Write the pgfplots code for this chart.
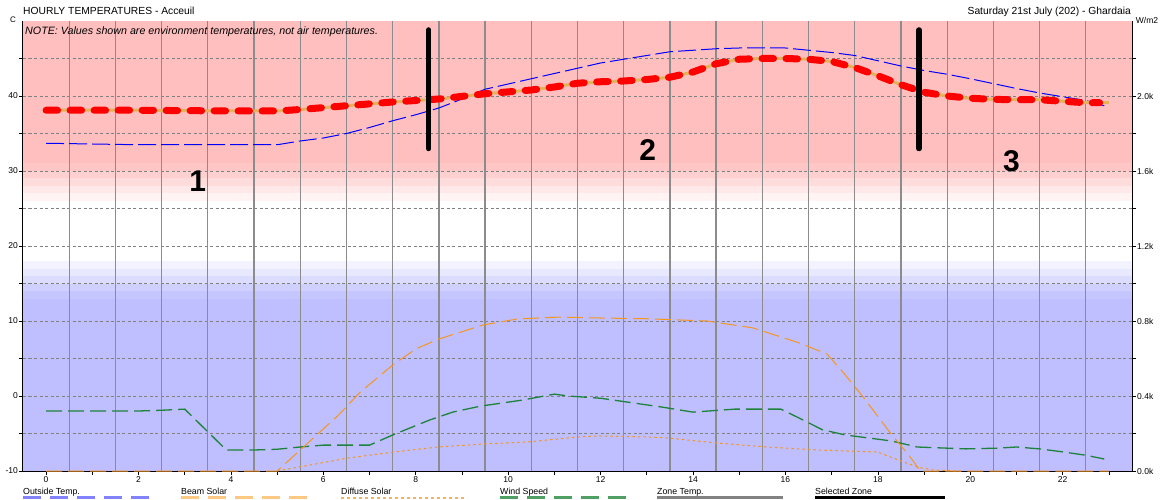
\documentclass[border=0pt]{standalone}
\usepackage{pgfplots}
\pgfplotsset{compat=1.18}
\usepackage{fontspec}
\setmainfont{Liberation Sans}
\definecolor{bgpink}{RGB}{255,191,191}
\definecolor{bglav}{RGB}{191,191,255}
\definecolor{pA}{RGB}{255,198,198}
\definecolor{pB}{RGB}{255,208,208}
\definecolor{pC}{RGB}{255,220,220}
\definecolor{pD}{RGB}{255,232,232}
\definecolor{pE}{RGB}{255,243,243}
\definecolor{lA}{RGB}{198,198,255}
\definecolor{lB}{RGB}{208,208,255}
\definecolor{lC}{RGB}{220,220,255}
\definecolor{lD}{RGB}{232,232,255}
\definecolor{lE}{RGB}{243,243,255}
\definecolor{gridgray}{RGB}{128,128,128}
\definecolor{vgray}{RGB}{140,140,140}
\definecolor{outblue}{RGB}{0,0,255}
\definecolor{solorange}{RGB}{245,150,30}
\definecolor{windgreen}{RGB}{30,130,60}
\definecolor{zonegold}{RGB}{225,180,90}
\definecolor{legblue}{RGB}{130,130,255}
\definecolor{legorange}{RGB}{255,200,130}
\definecolor{legdot}{RGB}{245,180,90}
\definecolor{leggreen}{RGB}{80,160,100}
\definecolor{leggray}{RGB}{130,130,130}
\begin{document}
\begin{tikzpicture}[x=1pt,y=1pt]
\useasboundingbox (0,0) rectangle (1162,499);
% background bands
\begin{axis}[at={(23pt,28pt)}, anchor=south west, width=1109pt, height=450pt, scale only axis,
  xmin=-0.5, xmax=23.5, ymin=-10, ymax=50, hide axis]
\fill[bglav] (axis cs:-0.5,-10) rectangle (axis cs:23.5,13);
\fill[lA] (axis cs:-0.5,13) rectangle (axis cs:23.5,14);
\fill[lB] (axis cs:-0.5,14) rectangle (axis cs:23.5,15);
\fill[lC] (axis cs:-0.5,15) rectangle (axis cs:23.5,16);
\fill[lD] (axis cs:-0.5,16) rectangle (axis cs:23.5,17);
\fill[lE] (axis cs:-0.5,17) rectangle (axis cs:23.5,18);
\fill[pE] (axis cs:-0.5,26) rectangle (axis cs:23.5,27);
\fill[pD] (axis cs:-0.5,27) rectangle (axis cs:23.5,28);
\fill[pC] (axis cs:-0.5,28) rectangle (axis cs:23.5,29);
\fill[pB] (axis cs:-0.5,29) rectangle (axis cs:23.5,30);
\fill[pA] (axis cs:-0.5,30) rectangle (axis cs:23.5,31);
\fill[bgpink] (axis cs:-0.5,31) rectangle (axis cs:23.5,50);
\end{axis}
% main axis (temperatures)
\begin{axis}[at={(23pt,28pt)}, anchor=south west, width=1109pt, height=450pt, scale only axis,
  xmin=-0.5, xmax=23.5, ymin=-10, ymax=50,
  axis x line*=bottom, axis y line*=left,
  axis line style={black, line width=1pt},
  xtick={0,2,4,6,8,10,12,14,16,18,20,22},
  xticklabels={0,2,4,6,8,10,12,14,16,18,20,22},
  minor xtick={1,3,5,7,9,11,13,15,17,19,21,23},
  ytick={-10,0,10,20,30,40},
  yticklabels={-10,0,10,20,30,40},
  minor ytick={-5,5,15,25,35,45},
  ymajorgrids, yminorgrids,
  major grid style={gridgray, line width=0.9pt, dash pattern=on 3pt off 2.5pt},
  minor grid style={gridgray, line width=0.9pt, dash pattern=on 3pt off 2.5pt},
  extra x ticks={0.5,1.5,2.5,3.5,4.5,5.5,6.5,7.5,8.5,9.5,10.5,11.5,12.5,13.5,14.5,15.5,16.5,17.5,18.5,19.5,20.5,21.5,22.5},
  extra x tick labels={},
  extra x tick style={xmajorgrids=true, major tick length=0pt, major grid style={vgray, solid, line width=1.3pt}},
  tick align=outside, major tick length=4pt, minor tick length=4pt,
  tick style={black, line width=0.7pt},
  /pgf/number format/assume math mode=true,
  xticklabel style={font=\fontsize{8.5}{8.5}\selectfont, inner sep=1pt},
  yticklabel style={font=\fontsize{8.5}{8.5}\selectfont, inner sep=1pt},
  clip=false]
% Outside temp
\addplot[outblue, line width=1pt, dash pattern=on 18pt off 5pt] coordinates {
(0,33.7)(1,33.6)(2,33.5)(3,33.5)(4,33.5)(5,33.5)(5.5,34.0)(6,34.4)(6.5,35.0)(7,35.8)(7.5,36.7)(8,37.5)(8.5,38.4)(9,39.6)(9.5,40.9)(10,41.6)(10.5,42.3)(11,43.0)(11.5,43.7)(12,44.4)(12.5,44.9)(13,45.4)(13.5,45.9)(14,46.1)(14.5,46.3)(15,46.4)(15.5,46.4)(16,46.4)(16.5,46.1)(17,45.8)(17.5,45.4)(18,44.7)(18.5,44.0)(19,43.4)(19.5,42.9)(20,42.3)(20.5,41.65)(21,41.0)(21.5,40.4)(22,39.9)(22.5,39.4)(22.9,38.7)};
% Wind speed
\addplot[windgreen, line width=1.3pt, dash pattern=on 16pt off 6pt] coordinates {
(0,-2.0)(1,-2.0)(2,-2.0)(2.5,-1.9)(3,-1.75)(3.9,-7.2)(4.5,-7.2)(5,-7.1)(5.5,-6.8)(6,-6.55)(7,-6.55)(7.5,-5.2)(8.3,-3.2)(8.8,-2.15)(9.4,-1.35)(10.3,-0.55)(11,0.25)(11.3,0.0)(12,-0.3)(13.3,-1.45)(14,-2.15)(14.9,-1.75)(15.9,-1.75)(16.3,-2.95)(16.8,-4.5)(17.3,-5.2)(18.3,-6.0)(18.85,-6.8)(19.9,-7.05)(20.6,-6.95)(21,-6.8)(21.5,-7.05)(22,-7.45)(22.5,-7.9)(22.9,-8.4)};
% Zone temperature (annotated)
\addplot[zonegold, line width=3pt] coordinates {
(0,38.1)(1,38.1)(2,38.1)(3,38.05)(4,38.0)(5,38.0)(5.5,38.2)(6,38.45)(6.5,38.7)(7,38.95)(7.5,39.2)(8,39.4)(8.5,39.6)(9,39.95)(9.5,40.3)(10,40.55)(10.5,40.8)(11,41.2)(11.5,41.7)(12,41.9)(12.5,42.0)(13,42.2)(13.5,42.5)(14,43.2)(14.5,44.3)(15,44.9)(15.5,45.0)(16,45.0)(16.5,44.9)(17,44.6)(17.5,43.8)(18,42.7)(18.5,41.5)(19,40.5)(19.5,40.0)(20,39.7)(20.5,39.55)(21,39.5)(21.5,39.5)(22,39.3)(22.5,39.1)(23,39.1)};
\addplot[red, line width=7pt, line cap=round, dash pattern=on 11.5pt off 12.5pt] coordinates {
(0,38.1)(1,38.1)(2,38.1)(3,38.05)(4,38.0)(5,38.0)(5.5,38.2)(6,38.45)(6.5,38.7)(7,38.95)(7.5,39.2)(8,39.4)(8.5,39.6)(9,39.95)(9.5,40.3)(10,40.55)(10.5,40.8)(11,41.2)(11.5,41.7)(12,41.9)(12.5,42.0)(13,42.2)(13.5,42.5)(14,43.2)(14.5,44.3)(15,44.9)(15.5,45.0)(16,45.0)(16.5,44.9)(17,44.6)(17.5,43.8)(18,42.7)(18.5,41.5)(19,40.5)(19.5,40.0)(20,39.7)(20.5,39.55)(21,39.5)(21.5,39.5)(22,39.3)(22.5,39.1)(22.8,39.1)};
% separators
\addplot[black, line width=5.5pt, line cap=round] coordinates {(8.28,33.0)(8.28,48.8)};
\addplot[black, line width=5.5pt, line cap=round] coordinates {(18.89,33.0)(18.89,48.8)};
\node[font=\fontsize{30}{30}\selectfont\bfseries] at (axis cs:3.28,28.67) {1};
\node[font=\fontsize{30}{30}\selectfont\bfseries] at (axis cs:13.02,32.8) {2};
\node[font=\fontsize{30}{30}\selectfont\bfseries] at (axis cs:20.89,31.3) {3};
\end{axis}
% right axis (solar W/m2)
\begin{axis}[at={(23pt,28pt)}, anchor=south west, width=1109pt, height=450pt, scale only axis,
  xmin=-0.5, xmax=23.5, ymin=0, ymax=2400,
  axis y line*=right, axis x line=none,
  axis line style={black, line width=1pt},
  ytick={0,400,800,1200,1600,2000},
  yticklabels={0.0k,0.4k,0.8k,1.2k,1.6k,2.0k},
  minor ytick={200,600,1000,1400,1800,2200},
  tick align=outside, major tick length=4pt, minor tick length=4pt,
  tick style={black, line width=0.7pt},
  /pgf/number format/assume math mode=true,
  yticklabel style={font=\fontsize{8.5}{8.5}\selectfont, inner sep=1pt},
  clip=false]
\addplot[solorange, line width=1pt, dash pattern=on 16pt off 6pt] coordinates {
(0,0)(1,0)(2,0)(3,0)(4,0)(5,0)(5.5,112)(6.33,299)(6.8,421)(7.5,565)(8,651)(8.5,704)(9.46,779)(10.2,811)(11.1,821)(12,816)(13,812)(14.3,800)(15.3,763)(16.3,683)(16.9,624)(17.26,523)(17.7,389)(18.27,203)(18.7,75)(18.92,0)(20,0)(21,0)(22,0)(23,0)};
\addplot[solorange, line width=1pt, dash pattern=on 2.5pt off 3pt] coordinates {
(5,0)(5.25,11)(6.53,69)(7.52,101)(8.48,128)(9.47,144)(10.42,155)(11.5,181)(11.94,187)(13.08,181)(13.45,176)(14.53,149)(15.6,128)(16.7,112)(18.0,101)(18.27,75)(18.85,21)(19.2,5)(19.8,0)};
\end{axis}
% titles
\node[anchor=base west, inner sep=0, font=\fontsize{10.3}{10.3}\selectfont] at (23,484) {HOURLY TEMPERATURES - Acceuil};
\node[anchor=base east, inner sep=0, font=\fontsize{10.3}{10.3}\selectfont] at (1131,484) {Saturday 21st July (202) - Ghardaia};
\node[inner sep=0, font=\fontsize{8}{8}\selectfont] at (13,479) {C};
\node[inner sep=0, font=\fontsize{8.5}{8.5}\selectfont] at (1147,479) {W/m2};
\node[anchor=base west, inner sep=0, font=\fontsize{10.7}{10.7}\selectfont\itshape] at (25,464) {NOTE: Values shown are environment temperatures, not air temperatures.};
% legend
\node[anchor=base west, inner sep=0, font=\fontsize{8.8}{8.8}\selectfont] at (23,5) {Outside Temp.};
\draw[legblue, line width=2.5pt, dash pattern=on 18pt off 9pt] (23,1.3) -- (150,1.3);
\node[anchor=base west, inner sep=0, font=\fontsize{8.8}{8.8}\selectfont] at (181,5) {Beam Solar};
\draw[legorange, line width=2.5pt, dash pattern=on 18pt off 9pt] (181,1.3) -- (308,1.3);
\node[anchor=base west, inner sep=0, font=\fontsize{8.8}{8.8}\selectfont] at (341,5) {Diffuse Solar};
\draw[legdot, line width=2pt, dash pattern=on 3pt off 3pt] (341,1.3) -- (467,1.3);
\node[anchor=base west, inner sep=0, font=\fontsize{8.8}{8.8}\selectfont] at (500,5) {Wind Speed};
\draw[leggreen, line width=2.5pt, dash pattern=on 18pt off 9pt] (500,1.3) -- (626,1.3);
\node[anchor=base west, inner sep=0, font=\fontsize{8.8}{8.8}\selectfont] at (657,5) {Zone Temp.};
\draw[leggray, line width=2.5pt] (657,1.3) -- (783,1.3);
\node[anchor=base west, inner sep=0, font=\fontsize{8.8}{8.8}\selectfont] at (815,5) {Selected Zone};
\draw[black, line width=2.5pt] (815,1.3) -- (945,1.3);
\end{tikzpicture}
\end{document}
